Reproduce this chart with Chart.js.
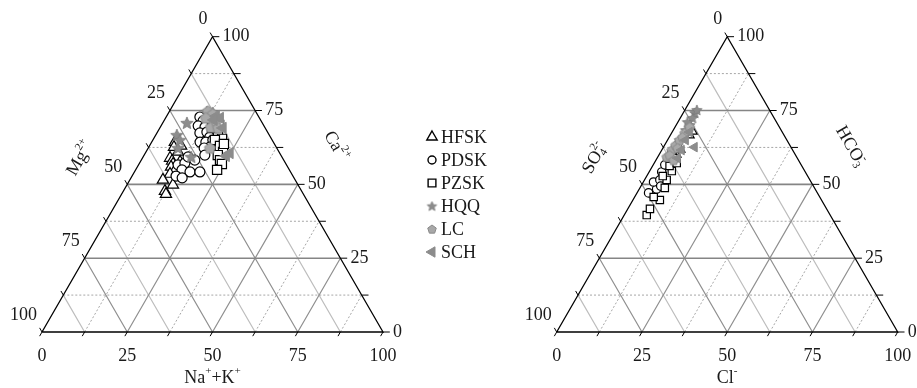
<!DOCTYPE html>
<html><head><meta charset="utf-8">
<script src="https://cdn.jsdelivr.net/npm/chart.js@4.4.0/dist/chart.umd.min.js"></script>
<style>
html,body{margin:0;padding:0;background:#fff;overflow:hidden}
#wrap{position:relative;width:917px;height:388px;background:#fff}
canvas{position:absolute;top:0}
#c1{left:0}
#c2{left:500px}
</style></head><body>
<div id="wrap"><canvas id="c1" width="500" height="388"></canvas><canvas id="c2" width="417" height="388"></canvas></div>
<script>
// ---------- DATA ----------
const SERIES = ['HFSK','PDSK','PZSK','HQQ','LC','SCH'];
const TICKS = [0,25,50,75,100];
const GRID_MAJOR = [25,50,75];
const GRID_MINOR = [12.5,37.5,62.5,87.5];
const TICK_MARKS = [0,12.5,25,37.5,50,62.5,75,87.5,100];

// Cation triangle (%): Na+K (bottom axis), Ca2+ (right axis); Mg2+ is the remainder
const HFSK_NaK = [6.8,7.4,9.3,9.4,8.1,9.2,10.0,9.9,11.6,11.7,13.9,10.8,9.7,13.5,12.2,13.0];
const HFSK_Ca  = [64.3,62.6,63.0,61.0,58.9,57.9,56.9,55.9,54.9,57.6,55.5,53.5,51.5,49.8,47.7,46.7];
const PDSK_NaK = [9.9,11.5,10.9,13.1,12.6,14.5,16.2,14.2,15.9,17.6,20.0,17.9,16.4,11.6,13.3,13.6,16.3,19.2,12.9,15.0,13.2,15.7,17.8];
const PDSK_Ca  = [72.8,71.5,69.8,69.4,67.4,67.7,66.0,64.3,64.3,65.0,64.3,62.6,62.3,56.6,57.2,54.9,54.2,54.2,52.8,52.2,59.3,58.2,59.9];
const PZSK_NaK = [17.9,20.1,18.2,20.7,22.6,21.6,23.1,24.3,23.9,21.5,15.3,16.9];
const PZSK_Ca  = [67.4,65.4,65.0,63.0,61.0,59.9,58.2,56.9,54.9,63.7,69.1,70.1];
const HQQ_NaK  = [7.1,6.2,8.7,14.1,11.1,13.0,7.9];
const HQQ_Ca   = [70.8,66.7,62.3,59.3,74.5,74.2,65.0];
const LC_NaK   = [11.3,13.2,14.8,15.3,18.1,11.8,17.1];
const LC_Ca    = [74.8,73.8,69.4,71.5,62.3,72.5,69.1];
const SCH_NaK  = [14.5,16.0,18.5,24.8,24.2,14.5];
const SCH_Ca   = [73.1,72.5,69.1,60.6,59.6,71.8];

// Anion triangle (%): Cl- (bottom axis), HCO3- (right axis); SO4 2- is the remainder
const HFSK_Cl   = [6.3,6.1,4.6,5.5,5.8,3.2];
const HFSK_HCO3 = [67.7,66.4,58.2,59.9,61.6,63.3];
const PDSK_Cl   = [3.4,5.1,3.0,4.5,3.7,3.4,3.1,5.8,3.3];
const PDSK_HCO3 = [47.1,48.4,50.8,51.5,54.2,56.6,58.9,49.4,61.0];
const PZSK_Cl   = [6.6,6.5,7.9,5.6,7.3,6.5,6.5,5.0,6.6,4.7,5.1];
const PZSK_HCO3 = [39.6,41.7,44.7,45.7,48.8,51.5,54.5,56.2,57.2,52.8,58.9];
const HQQ_Cl    = [3.4,3.6,4.0,3.6,3.5,3.5,2.8];
const HQQ_HCO3  = [74.2,72.5,70.1,68.4,65.0,75.2,71.1];
const LC_Cl     = [2.6,2.9,3.2,3.5,3.8,4.3,3.2,4.3,5.2,3.9];
const LC_HCO3   = [59.3,61.6,63.3,65.0,67.4,69.4,59.9,62.3,58.2,66.0];
const SCH_Cl    = [9.1,5.1,5.8,5.3,6.0];
const SCH_HCO3  = [62.6,67.7,61.6,65.0,58.9];

// ---------- HELPERS ----------
const H = Math.sqrt(3)/2;
const proj = (a, c) => ({x: a + c/2, y: c*H});
const FONT = '"Liberation Serif","Times New Roman",serif';

function segData(segs){
  const out = [];
  segs.forEach((s,i)=>{ if(i) out.push({x:null,y:null}); out.push(s[0]); out.push(s[1]); });
  return out;
}
const caSegs  = v => v.map(c => [proj(0,c), proj(100-c,c)]);
const mgSegs  = v => v.map(m => [proj(0,100-m), proj(100-m,0)]);
const nakSegs = v => v.map(a => [proj(a,0), proj(a,100-a)]);

function tickSegs(){
  const L = 1.4, R = 2.0, out = [];
  TICK_MARKS.forEach(m => { const p = proj(0,100-m); out.push([p, {x:p.x-0.5*L, y:p.y+H*L}]); });
  TICK_MARKS.forEach(c => { const p = proj(100-c,c); out.push([p, {x:p.x+R, y:p.y}]); });
  TICK_MARKS.forEach(a => { const p = proj(a,0); out.push([p, {x:p.x-0.5*L, y:p.y-H*L}]); });
  return out;
}

function makeStar(R, fill, stroke){
  const c = document.createElement('canvas'); const s = Math.ceil(R*2+3); c.width = s; c.height = s;
  const g = c.getContext('2d'); g.translate(s/2, s/2+0.5);
  g.beginPath();
  for (let i=0;i<10;i++){ const r = i%2? R*0.45 : R; const a = -Math.PI/2 + i*Math.PI/5; g.lineTo(Math.cos(a)*r, Math.sin(a)*r); }
  g.closePath(); g.fillStyle = fill; g.fill(); g.strokeStyle = stroke; g.lineWidth = 0.8; g.stroke();
  return c;
}
function makePent(R, fill, stroke){
  const c = document.createElement('canvas'); const s = Math.ceil(R*2+3); c.width = s; c.height = s;
  const g = c.getContext('2d'); g.translate(s/2, s/2+0.5);
  g.beginPath();
  for (let i=0;i<5;i++){ const a = -Math.PI/2 + i*2*Math.PI/5; g.lineTo(Math.cos(a)*R, Math.sin(a)*R); }
  g.closePath(); g.fillStyle = fill; g.fill(); g.strokeStyle = stroke; g.lineWidth = 1; g.stroke();
  return c;
}

function rich(ctx, parts, cx, cy, ang, size){
  ctx.save(); ctx.translate(cx, cy); ctx.rotate(ang*Math.PI/180);
  const small = size*0.62; let w = 0, lastStart = 0; const lay = [];
  parts.forEach(([t,type])=>{
    ctx.font = (type==='n' ? size : small) + 'px ' + FONT;
    const tw = ctx.measureText(t).width; let x;
    if (type==='supS'){ x = lastStart; w = Math.max(w, x+tw); }
    else { x = w; lastStart = x; w = x+tw; }
    lay.push({t,type,x});
  });
  ctx.fillStyle = '#1a1a1a'; ctx.textBaseline = 'middle'; ctx.textAlign = 'left';
  lay.forEach(p=>{
    ctx.font = (p.type==='n' ? size : small) + 'px ' + FONT;
    const dy = (p.type==='sup'||p.type==='supS') ? -size*0.36 : (p.type==='sub' ? size*0.26 : 0);
    ctx.fillText(p.t, p.x - w/2, dy);
  });
  ctx.restore();
}

const GRAY = '#8c8c8c';
const STAR_L = makeStar(6.5, GRAY, '#7a7a7a'), STAR_R = makeStar(5.5, GRAY, '#7a7a7a'), STAR_G = makeStar(5, GRAY, '#7a7a7a');
const PENT_L = makePent(5.8, '#a8a8a8', '#8a8a8a'), PENT_R = makePent(5, '#a8a8a8', '#8a8a8a'), PENT_G = makePent(4.5, '#a8a8a8', '#8a8a8a');

const STYLE = {
  HFSK: {pointStyle:'triangle', bg:'#ffffff', bc:'#000000', bw:1.2, rot:0},
  PDSK: {pointStyle:'circle',   bg:'#ffffff', bc:'#000000', bw:1.2, rot:0},
  PZSK: {pointStyle:'rect',     bg:'#ffffff', bc:'#000000', bw:1.2, rot:0},
  HQQ:  {pointStyle:null,       bg:GRAY,      bc:GRAY,      bw:0,   rot:0},
  LC:   {pointStyle:null,       bg:'#a8a8a8', bc:GRAY,      bw:0,   rot:0},
  SCH:  {pointStyle:'triangle', bg:GRAY,      bc:GRAY,      bw:1,   rot:-90}
};

function pointSets(A, C, radii, imgs){
  return SERIES.map((name, k) => {
    const st = STYLE[name];
    let ps = st.pointStyle;
    if (name==='HQQ') ps = imgs.star; if (name==='LC') ps = imgs.pent;
    return {
      label: name, type:'scatter', order: 10-k,
      data: A[name].map((a,i)=>proj(a, C[name][i])),
      pointStyle: ps, pointRadius: radii[name], pointRotation: st.rot,
      backgroundColor: st.bg, borderColor: st.bc, pointBorderWidth: st.bw, borderWidth: st.bw,
      showLine: false, clip: false
    };
  });
}

function frameSets(){
  const tri = [proj(0,0), proj(100,0), proj(0,100), proj(0,0)];
  const base = {type:'scatter', showLine:true, pointRadius:0, spanGaps:false, fill:false, clip:false};
  return [
    {...base, order:100, data: segData(caSegs(GRID_MINOR)),  borderColor:'#a6a6a6', borderWidth:1, borderDash:[2,2]},
    {...base, order:100, data: segData(nakSegs(GRID_MINOR)), borderColor:'#a6a6a6', borderWidth:1, borderDash:[2,2]},
    {...base, order:99,  data: segData(mgSegs(GRID_MINOR)),  borderColor:'#bdbdbd', borderWidth:1.2},
    {...base, order:98,  data: segData(mgSegs(GRID_MAJOR)),  borderColor:'#8f8f8f', borderWidth:1.2},
    {...base, order:98,  data: segData(nakSegs(GRID_MAJOR)), borderColor:'#8f8f8f', borderWidth:1.2},
    {...base, order:97,  data: segData(caSegs(GRID_MAJOR)),  borderColor:'#858585', borderWidth:1.6},
    {...base, order:90,  data: segData(tickSegs()),          borderColor:'#000000', borderWidth:1},
    {...base, order:89,  data: tri,                          borderColor:'#000000', borderWidth:1.3}
  ];
}

function labelPlugin(titles){
  return {
    id:'ternLabels',
    afterDatasetsDraw(chart){
      const ctx = chart.ctx, sx = chart.scales.x, sy = chart.scales.y;
      const P = (a,c) => { const q = proj(a,c); return [sx.getPixelForValue(q.x), sy.getPixelForValue(q.y)]; };
      ctx.save();
      ctx.fillStyle = '#1a1a1a'; ctx.font = '18px ' + FONT;
      TICKS.forEach(v => {
        let [x,y] = P(v,0); ctx.textAlign='center'; ctx.textBaseline='middle'; ctx.fillText(String(v), x, y+24);
        [x,y] = P(100-v, v); ctx.textAlign='left'; ctx.fillText(String(v), x+10, y);
        [x,y] = P(0, 100-v); ctx.textAlign='right'; ctx.fillText(String(v), x-5, y-17);
      });
      ctx.restore();
      let [bx,by] = P(50,0);
      rich(ctx, titles.bottom, bx, by+46, 0, 18);
      let [lx,ly] = P(0,50);
      rich(ctx, titles.left, lx-47, ly-26, -60, 18);
      let [rx,ry] = P(50,50);
      rich(ctx, titles.right, rx+38, ry-38, 60, 18);
    }
  };
}

const legendPlugin = {
  id:'legendDraw',
  afterDraw(chart){
    const ctx = chart.ctx; const ys = [137,160,183,206,229,252]; const sx = 432;
    const rad = {HFSK:6, PDSK:4, PZSK:5.5, HQQ:5, LC:4.5, SCH:6};
    SERIES.forEach((name,i)=>{
      const st = STYLE[name]; ctx.save();
      if (name==='HQQ') ctx.drawImage(STAR_G, sx-STAR_G.width/2, ys[i]-STAR_G.height/2);
      else if (name==='LC') ctx.drawImage(PENT_G, sx-PENT_G.width/2, ys[i]-PENT_G.height/2);
      else {
        ctx.fillStyle = st.bg; ctx.strokeStyle = st.bc; ctx.lineWidth = name==='SCH'?1:1.4;
        Chart.helpers.drawPoint(ctx, {pointStyle: st.pointStyle, radius: rad[name], rotation: st.rot, borderWidth: ctx.lineWidth}, sx, ys[i]);
      }
      ctx.fillStyle = '#1a1a1a'; ctx.font = '18px ' + FONT; ctx.textAlign='left'; ctx.textBaseline='middle';
      ctx.fillText(name, sx+9, ys[i]+1);
      ctx.restore();
    });
  }
};

function makeChart(id, A, C, radii, imgs, xmin, xmax, titles, extra){
  const cv = document.getElementById(id);
  return new Chart(cv, {
    type:'scatter',
    data:{ datasets: [...frameSets(), ...pointSets(A, C, radii, imgs)] },
    options:{
      responsive:false, animation:false, devicePixelRatio:1, events:[],
      layout:{padding:0, autoPadding:false},
      plugins:{legend:{display:false}, tooltip:{enabled:false}},
      scales:{
        x:{type:'linear', display:false, min:xmin, max:xmax},
        y:{type:'linear', display:false, min:-16.42, max:97.36}
      }
    },
    plugins:[labelPlugin(titles), ...(extra||[])]
  });
}

const UNIT = 3.41;
makeChart('c1',
  {HFSK:HFSK_NaK, PDSK:PDSK_NaK, PZSK:PZSK_NaK, HQQ:HQQ_NaK, LC:LC_NaK, SCH:SCH_NaK},
  {HFSK:HFSK_Ca,  PDSK:PDSK_Ca,  PZSK:PZSK_Ca,  HQQ:HQQ_Ca,  LC:LC_Ca,  SCH:SCH_Ca},
  {HFSK:6.5, PDSK:5, PZSK:6.5, HQQ:6, LC:5, SCH:6.5},
  {star:STAR_L, pent:PENT_L},
  -42/UNIT, -42/UNIT + 500/UNIT,
  {bottom:[['Na','n'],['+','sup'],['+','n'],['K','n'],['+','sup']],
   left:[['Mg','n'],['2+','sup']],
   right:[['Ca','n'],['2+','sup']]},
  [legendPlugin]);

makeChart('c2',
  {HFSK:HFSK_Cl, PDSK:PDSK_Cl, PZSK:PZSK_Cl, HQQ:HQQ_Cl, LC:LC_Cl, SCH:SCH_Cl},
  {HFSK:HFSK_HCO3, PDSK:PDSK_HCO3, PZSK:PZSK_HCO3, HQQ:HQQ_HCO3, LC:LC_HCO3, SCH:SCH_HCO3},
  {HFSK:4, PDSK:4.2, PZSK:5.2, HQQ:5, LC:4.5, SCH:5.5},
  {star:STAR_R, pent:PENT_R},
  -56.7/UNIT, -56.7/UNIT + 417/UNIT,
  {bottom:[['Cl','n'],['-','sup']],
   left:[['SO','n'],['4','sub'],['2-','supS']],
   right:[['HCO','n'],['3','sub'],['-','supS']]});
</script>
</body></html>
